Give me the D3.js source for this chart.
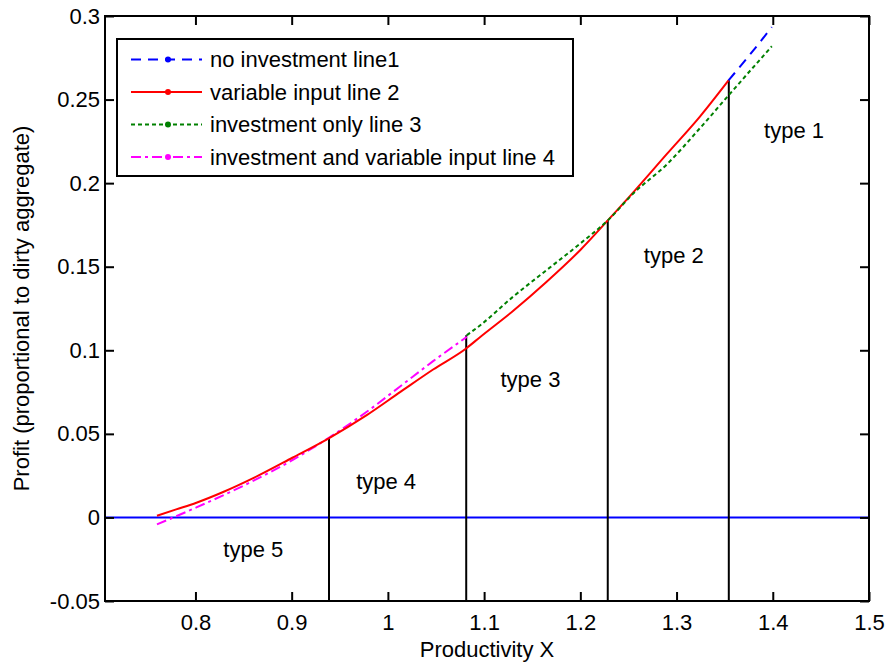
<!DOCTYPE html>
<html>
<head>
<meta charset="utf-8">
<script src="https://cdn.jsdelivr.net/npm/d3@7"></script>
<style>
  body { margin: 0; background: #fff; }
  svg text { font-family: "Liberation Sans", Arial, sans-serif; fill: #000; }
</style>
</head>
<body>
<svg id="canvas"></svg>
<script>
// values
let redX = [0.760, 0.780, 0.801, 0.830, 0.860, 0.9007, 0.939, 0.978, 1.013, 1.047, 1.082, 1.096, 1.130, 1.165, 1.200, 1.229, 1.255, 1.290, 1.3245, 1.354]
let redY = [0.001, 0.0048, 0.0088, 0.0155, 0.0235, 0.0357, 0.0475, 0.0612, 0.0751, 0.0885, 0.1014, 0.108, 0.1235, 0.141, 0.160, 0.178, 0.1945, 0.2175, 0.240, 0.2615]

let magentaX = [0.760, 0.801, 0.850, 0.9007, 0.939, 0.978, 1.013, 1.047, 1.082]
let magentaY = [-0.0042, 0.006, 0.019, 0.0343, 0.0478, 0.0632, 0.0785, 0.0935, 0.108]

let greenX = [1.082, 1.096, 1.130, 1.165, 1.200, 1.229, 1.255, 1.290, 1.3245, 1.354, 1.399]
let greenY = [0.109, 0.115, 0.132, 0.148, 0.1639, 0.178, 0.1938, 0.2113, 0.233, 0.2525, 0.2819]

let blueX = [1.354, 1.375, 1.399]
let blueY = [0.2615, 0.276, 0.2934]

let boundaryX = [0.9388, 1.0814, 1.2285, 1.3543]
let boundaryY = [0.0475, 0.109, 0.178, 0.2615]

let typeNames = ["type 1", "type 2", "type 3", "type 4", "type 5"]
let typeX = [1.391, 1.266, 1.117, 0.967, 0.829]
let typeY = [0.2268, 0.1523, 0.0778, 0.0168, -0.0237]

let xTicks = [0.8, 0.9, 1.0, 1.1, 1.2, 1.3, 1.4, 1.5]
let yTicks = [-0.05, 0, 0.05, 0.1, 0.15, 0.2, 0.25, 0.3]

let legendNames = ["no investment line1", "variable input line 2", "investment only line 3", "investment and variable input line 4"]
let legendColors = ["#0000ff", "#ff0000", "#008000", "#ff00ff"]
let legendDash = ["10,7", "none", "4,3", "10,4,3,4"]

let width = 888
let height = 664
let padLeft = 105, padRight = 869, padTop = 16, padBottom = 601
let fontSize = 22

let svg = d3.select("#canvas")
    .attr("width", width)
    .attr("height", height)

let xScale = d3.scaleLinear().domain([0.706, 1.5]).range([padLeft, padRight])
let yScale = d3.scaleLinear().domain([-0.05, 0.3]).range([padBottom, padTop])

let line = d3.line()
    .x((d) => xScale(d[0]))
    .y((d) => yScale(d[1]))
    .curve(d3.curveMonotoneX)

let drawCurve = (xs, ys, color, dash) => {
    svg.append("path")
        .datum(d3.zip(xs, ys))
        .attr("d", line)
        .attr("fill", "none")
        .attr("stroke", color)
        .attr("stroke-width", 2)
        .attr("stroke-dasharray", dash)
}

// zero line
svg.append("line")
    .attr("x1", padLeft).attr("x2", padRight)
    .attr("y1", yScale(0)).attr("y2", yScale(0))
    .attr("stroke", "#0000ff")
    .attr("stroke-width", 2)

// type boundaries
svg.selectAll(".boundary")
    .data(d3.zip(boundaryX, boundaryY))
    .enter()
    .append("line")
    .attr("class", "boundary")
    .attr("x1", (d) => xScale(d[0]))
    .attr("x2", (d) => xScale(d[0]))
    .attr("y1", yScale(-0.05))
    .attr("y2", (d) => yScale(d[1]))
    .attr("stroke", "#000")
    .attr("stroke-width", 2)

drawCurve(magentaX, magentaY, "#ff00ff", "10,4,3,4")
drawCurve(redX, redY, "#ff0000", "none")
drawCurve(greenX, greenY, "#008000", "4,3")
drawCurve(blueX, blueY, "#0000ff", "10,7")

// type labels
svg.selectAll(".type")
    .data(typeNames)
    .enter()
    .append("text")
    .attr("class", "type")
    .attr("x", (d, i) => xScale(typeX[i]))
    .attr("y", (d, i) => yScale(typeY[i]))
    .attr("font-size", fontSize)
    .text((d) => d)

// axes, ticks inside on all four sides
let fmt = (d) => d3.format("~g")(d).replace("\u2212", "-")
let xAxis = d3.axisBottom(xScale).tickValues(xTicks).tickSize(-9).tickPadding(13).tickFormat(fmt)
let yAxis = d3.axisLeft(yScale).tickValues(yTicks).tickSize(-9).tickPadding(5).tickFormat(fmt)
let xTop = d3.axisTop(xScale).tickValues(xTicks).tickSize(-9).tickFormat("")
let yRight = d3.axisRight(yScale).tickValues(yTicks).tickSize(-9).tickFormat("")

let styleAxis = (g) => {
    g.select(".domain").remove()
    g.selectAll(".tick line").attr("stroke", "#000").attr("stroke-width", 2)
    g.selectAll(".tick text").attr("font-size", fontSize).attr("font-family", "Liberation Sans, Arial, sans-serif")
}

svg.append("g").attr("transform", "translate(0," + padBottom + ")").call(xAxis).call(styleAxis)
svg.append("g").attr("transform", "translate(" + padLeft + ",0)").call(yAxis).call(styleAxis)
svg.append("g").attr("transform", "translate(0," + padTop + ")").call(xTop).call(styleAxis)
svg.append("g").attr("transform", "translate(" + padRight + ",0)").call(yRight).call(styleAxis)

svg.append("rect")
    .attr("x", padLeft).attr("y", padTop)
    .attr("width", padRight - padLeft).attr("height", padBottom - padTop)
    .attr("fill", "none")
    .attr("stroke", "#000")
    .attr("stroke-width", 2)

// axis labels
svg.append("text")
    .attr("x", (padLeft + padRight) / 2)
    .attr("y", 657)
    .attr("text-anchor", "middle")
    .attr("font-size", fontSize)
    .text("Productivity X")

svg.append("text")
    .attr("transform", "translate(29," + ((padTop + padBottom) / 2) + ") rotate(-90)")
    .attr("text-anchor", "middle")
    .attr("font-size", fontSize)
    .text("Profit (proportional to dirty aggregate)")

// legend
let legend = svg.append("g").attr("transform", "translate(117,39)")
legend.append("rect")
    .attr("width", 456).attr("height", 137)
    .attr("fill", "#fff")
    .attr("stroke", "#000")
    .attr("stroke-width", 2)

let rows = legend.selectAll(".row")
    .data(legendNames)
    .enter()
    .append("g")
    .attr("class", "row")
    .attr("transform", (d, i) => "translate(0," + (20.5 + i * 32.5) + ")")

rows.append("line")
    .attr("x1", 14).attr("x2", 85)
    .attr("stroke", (d, i) => legendColors[i])
    .attr("stroke-width", 2)
    .attr("stroke-dasharray", (d, i) => legendDash[i])

rows.append("circle")
    .attr("cx", 51)
    .attr("r", 3)
    .attr("fill", (d, i) => legendColors[i])

rows.append("text")
    .attr("x", 93)
    .attr("dy", "0.35em")
    .attr("font-size", fontSize)
    .text((d) => d)
</script>
</body>
</html>
